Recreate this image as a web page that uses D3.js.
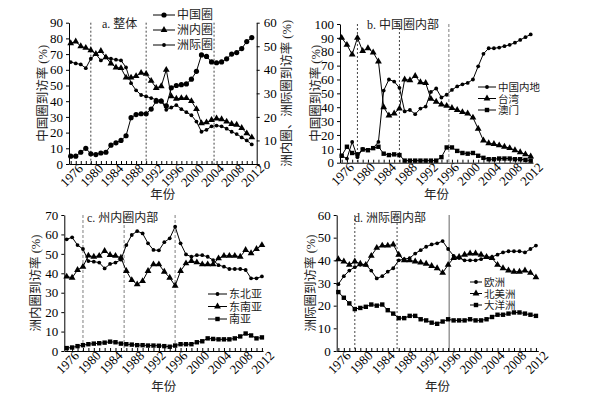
<!DOCTYPE html>
<html>
<head>
<meta charset="utf-8">
<script src="https://cdn.jsdelivr.net/npm/d3@7"></script>
<style>
  body { margin: 0; background: #fff; }
  svg { font-family: "Liberation Serif", "Noto Sans CJK SC", serif; }
  .axis path, .axis line { stroke: #000; stroke-width: 1; }
  .axis text { font-size: 13px; fill: #000; font-family: "Liberation Serif", serif; }
  .lbl { font-size: 12.5px; fill: #222; }
</style>
</head>
<body>
<script>
// years on x axis
var years = [1976,1977,1978,1979,1980,1981,1982,1983,1984,1985,1986,1987,1988,1989,1990,1991,1992,1993,1994,
  1995,1996,1997,1998,1999,2000,2001,2002,2003,2004,2005,2006,2007,2008,2009,2010,2011,2012];
var yearLabels = [1976,1980,1984,1988,1992,1996,2000,2004,2008,2012];

// a. 整体 (中国圈 on left axis, the other two on right axis)
var chinaCircle = [5,5,7.5,10,6.5,6,7,7.5,12,13.5,15,18,29.5,31.5,32,32,35,40,40,37,48.5,50,50.5,51,54,59,69.5,68.5,65,64.5,65,67,70,71,73.5,78,80.5];
var intraCircle = [51.3,52,50,49.3,48.3,46.7,48,45.3,42.7,41,40.7,36.7,36.7,37.3,38.7,38.3,35.3,32.3,33,40,28.7,27.7,28,28,26.7,23.3,17.3,17.7,18.7,19.3,19,18,17,16.7,15.3,13,11.3];
var interCircle = [43.3,42.7,42.3,40.7,44.7,46.7,44,45.3,44.7,44.3,44,41,34.3,31.3,29.3,28.7,28,27.3,27,23,24,25,23.3,22,20.7,18,13.7,14.5,16,16.3,16,15,13.7,12.7,11.3,10,8.3];
var refYearsA = [1980,1991,2004.5];

// b. 中国圈内部
var mainland = [5,3,15,4,10,9,10.5,15,52,60,58.5,54,37,38,35,39,40.5,51,53.5,47,49,52.5,55,56.5,57.5,60,69.5,78.5,82.5,82.5,83,84,85,86.5,88.5,90.5,92.5];
var taiwan = [90,85,78,90,80.5,82.5,79.5,73,40,34,35.5,39,60,59.5,62.5,58,57.5,46,44,42,41,39.5,38,36.5,35.5,32.5,24.5,16,14,13.5,12.5,11.5,10.5,9,7.5,6,4.5];
var macau = [5,11.5,7,6,9.5,9,10.5,11.5,6.5,5.5,6,5.5,1.5,1.5,1.5,1.5,1.5,1.5,1.5,4,11,11,8.5,7,6.5,7,5,3.5,2.5,2.5,3,3,3,2.5,2.5,2,1.5];
var refYearsB = [1979,1987,1996.4];

// c. 州内圈内部
var northeastAsia = [57.5,58.5,54.5,52.5,46.3,46,45.5,42.5,44.8,45.5,47,54.5,59.7,61.7,60.5,55.4,52,51.8,56,58,64,55.4,49.7,48.5,49.3,49.3,48.5,46.8,44.2,43.4,42.2,42.2,42.2,41.7,37.4,37.4,38.4];
var southeastAsia = [38.3,37.7,41.7,43.4,49.1,48.5,49,51.5,49.4,49,48,41.2,36.5,34.3,36,41.2,44.6,44.6,40.8,37.7,33.6,41.2,45.1,46.3,45.6,44.6,44.6,44.6,47.7,49,49,49,48.5,52,50.3,52.5,54.5];
var southAsia = [1.5,1.8,2.5,3,3.5,3.8,4,4.3,4.8,4.5,3.8,3.5,3.3,3,3,2.8,2.8,2.7,2.5,2.2,2.8,3.5,3.5,3.5,4.5,5,6.5,6.2,6,6,6,6.5,7.5,9,8,6.5,7];
var refYearsC = [1979,1986.6,1996];

// d. 洲际圈内部
var europe = [29.5,33,35.5,37,38,38,35.5,32,33,35,36.5,40,40.5,41,43,44.5,46,47,47.5,48.5,45,42,41,40,40,40,40.5,41.5,41.5,42.5,43.5,44,44,44,43.5,45,46.5];
var northAmerica = [40.5,39.5,38,39.5,38.5,38,42,45.5,46.5,46.5,47,42.5,40,40,39.5,39,38.5,37.5,36.5,34.5,38,41,41.5,42.5,43,43,42.5,41.5,41,38,36.5,35.5,35,35,35.5,34.5,32.5];
var oceania = [26,23.5,21,18.5,19,19.5,20.5,20,20.5,18,16.5,14.5,14.5,15.5,15.5,14,13.5,12.5,12,13,14,13.5,13.5,13.5,14,13.5,13.5,14,15,16,16,16.5,17,17,16.5,16,15.5];
var refYearsD = [1979,1986.7,1996.2];

var svg = d3.select("body").append("svg")
    .attr("width", 593)
    .attr("height", 399);

// marker drawing
function marker(g, type, x, y) {
  if (type == "circle") {
    g.append("circle").attr("cx", x).attr("cy", y).attr("r", 2.6).attr("fill", "#000");
  } else if (type == "dot") {
    g.append("circle").attr("cx", x).attr("cy", y).attr("r", 1.9).attr("fill", "#000");
  } else if (type == "tri") {
    g.append("path").attr("d", d3.symbol(d3.symbolTriangle, 20)()).attr("transform", `translate(${x},${y})`).attr("fill", "#000");
  } else {
    g.append("rect").attr("x", x - 2.2).attr("y", y - 2.2).attr("width", 4.4).attr("height", 4.4).attr("fill", "#000");
  }
}

function drawPanel(p) {
  var g = svg.append("g");
  var x = d3.scaleLinear().domain(p.xDomain).range([p.left, p.right]);
  var y = d3.scaleLinear().domain([0, p.yMax]).range([p.bottom, p.top]);
  var y2 = p.y2Max ? d3.scaleLinear().domain([0, p.y2Max]).range([p.bottom, p.top]) : null;

  // reference lines
  p.refs.forEach(function (r, i) {
    var st = p.refStyle[i];
    g.append("line")
        .attr("x1", x(r)).attr("x2", x(r))
        .attr("y1", p.top).attr("y2", p.bottom)
        .attr("stroke", st.color)
        .attr("stroke-width", st.width)
        .attr("stroke-dasharray", st.dash);
  });

  // x axis
  var xAxis = d3.axisBottom(x)
      .tickValues(years)
      .tickSize(-3)
      .tickSizeOuter(0)
      .tickPadding(5)
      .tickFormat(d => yearLabels.indexOf(d) >= 0 ? d : "");
  var gx = g.append("g").attr("class", "axis")
      .attr("transform", `translate(0,${p.bottom})`)
      .call(xAxis);
  gx.selectAll("text")
      .attr("text-anchor", "end")
      .attr("dx", "0.4em")
      .attr("dy", "0.6em")
      .attr("transform", "rotate(-45)");

  // left y axis
  g.append("g").attr("class", "axis")
      .attr("transform", `translate(${p.left},0)`)
      .call(d3.axisLeft(y).ticks(p.yMax / p.yStep).tickSize(3).tickSizeOuter(0).tickPadding(3));

  if (y2) {
    g.append("g").attr("class", "axis")
        .attr("transform", `translate(${p.right},0)`)
        .call(d3.axisRight(y2).ticks(p.y2Max / 10).tickSize(3).tickSizeOuter(0).tickPadding(4));
  }

  // series
  p.series.forEach(function (s) {
    var ys = s.right ? y2 : y;
    g.append("path")
        .datum(s.values)
        .attr("fill", "none")
        .attr("stroke", "#000")
        .attr("stroke-width", 1)
        .attr("d", d3.line().x((d, i) => x(years[i])).y(d => ys(d)));
    s.values.forEach(function (v, i) {
      marker(g, s.marker, x(years[i]), ys(v));
    });
  });

  // legend
  p.series.forEach(function (s, i) {
    var ly = p.legend.y + i * p.legend.dy;
    g.append("line")
        .attr("x1", p.legend.x).attr("x2", p.legend.x + p.legend.len)
        .attr("y1", ly).attr("y2", ly)
        .attr("stroke", "#000");
    marker(g, s.marker, p.legend.x + p.legend.len / 2, ly);
    g.append("text").attr("class", "lbl")
        .attr("x", p.legend.x + p.legend.len + 2)
        .attr("y", ly + 4)
        .style("font-size", p.legend.size + "px")
        .text(s.name);
  });

  // titles
  g.append("text").attr("class", "lbl")
      .attr("x", p.title.x).attr("y", p.title.y)
      .style("font-size", "12px")
      .text(p.title.text);

  g.append("text").attr("class", "lbl")
      .attr("text-anchor", "middle")
      .attr("transform", `translate(${p.ylab.x},${(p.top + p.bottom) / 2}) rotate(-90)`)
      .text(p.ylab.text);

  if (p.y2lab) {
    g.append("text").attr("class", "lbl")
        .attr("text-anchor", "middle")
        .attr("transform", `translate(${p.y2lab.x},${(p.top + p.bottom) / 2}) rotate(-90)`)
        .text(p.y2lab.text);
  }

  g.append("text").attr("class", "lbl")
      .attr("text-anchor", "middle")
      .attr("x", (p.left + p.right) / 2)
      .attr("y", p.xlabY)
      .text("年份");
}

var darkDash = {color: "#444", width: 1, dash: "2,2"};
var greyDash = {color: "#aaa", width: 1.5, dash: "3,2"};
var greySolid = {color: "#999", width: 1.5, dash: null};

drawPanel({
  left: 69, right: 256.7, top: 22.7, bottom: 164,
  xDomain: [1975.66, 2012.98], yMax: 90, yStep: 10, y2Max: 60,
  refs: refYearsA, refStyle: [darkDash, darkDash, darkDash],
  series: [
    {name: "中国圈", values: chinaCircle, marker: "circle"},
    {name: "洲内圈", values: intraCircle, marker: "tri", right: true},
    {name: "洲际圈", values: interCircle, marker: "dot", right: true}
  ],
  legend: {x: 153, y: 15, dy: 15, len: 22, size: 12},
  title: {x: 102, y: 28, text: "a. 整体"},
  ylab: {x: 47, text: "中国圈到访率 (%)"},
  y2lab: {x: 291, text: "洲内圈、洲际圈到访率 (%)"},
  xlabY: 199
});

drawPanel({
  left: 340, right: 533, top: 24, bottom: 162.7,
  xDomain: [1975.68, 2012.44], yMax: 100, yStep: 10,
  refs: refYearsB, refStyle: [darkDash, darkDash, greyDash],
  series: [
    {name: "中国内地", values: mainland, marker: "dot"},
    {name: "台湾", values: taiwan, marker: "tri"},
    {name: "澳门", values: macau, marker: "square"}
  ],
  legend: {x: 478, y: 87, dy: 11.5, len: 18, size: 10.5},
  title: {x: 367, y: 29, text: "b. 中国圈内部"},
  ylab: {x: 320, text: "中国圈到访率 (%)"},
  xlabY: 199
});

drawPanel({
  left: 64.3, right: 263, top: 215, bottom: 351,
  xDomain: [1975.56, 2012.2], yMax: 70, yStep: 10,
  refs: refYearsC, refStyle: [greyDash, greyDash, greyDash],
  series: [
    {name: "东北亚", values: northeastAsia, marker: "dot"},
    {name: "东南亚", values: southeastAsia, marker: "tri"},
    {name: "南亚", values: southAsia, marker: "square"}
  ],
  legend: {x: 208, y: 294, dy: 12.5, len: 19, size: 11},
  title: {x: 87, y: 222, text: "c. 州内圈内部"},
  ylab: {x: 40, text: "洲内圈到访率 (%)"},
  xlabY: 391
});

drawPanel({
  left: 336.7, right: 538.3, top: 215, bottom: 351,
  xDomain: [1975.7, 2012.43], yMax: 60, yStep: 10,
  refs: refYearsD, refStyle: [darkDash, darkDash, greySolid],
  series: [
    {name: "欧洲", values: europe, marker: "dot"},
    {name: "北美洲", values: northAmerica, marker: "tri"},
    {name: "大洋洲", values: oceania, marker: "square"}
  ],
  legend: {x: 470, y: 282, dy: 11.5, len: 12, size: 10.5},
  title: {x: 354, y: 222, text: "d. 洲际圈内部"},
  ylab: {x: 315, text: "洲际圈到访率 (%)"},
  xlabY: 391
});
</script>
</body>
</html>
